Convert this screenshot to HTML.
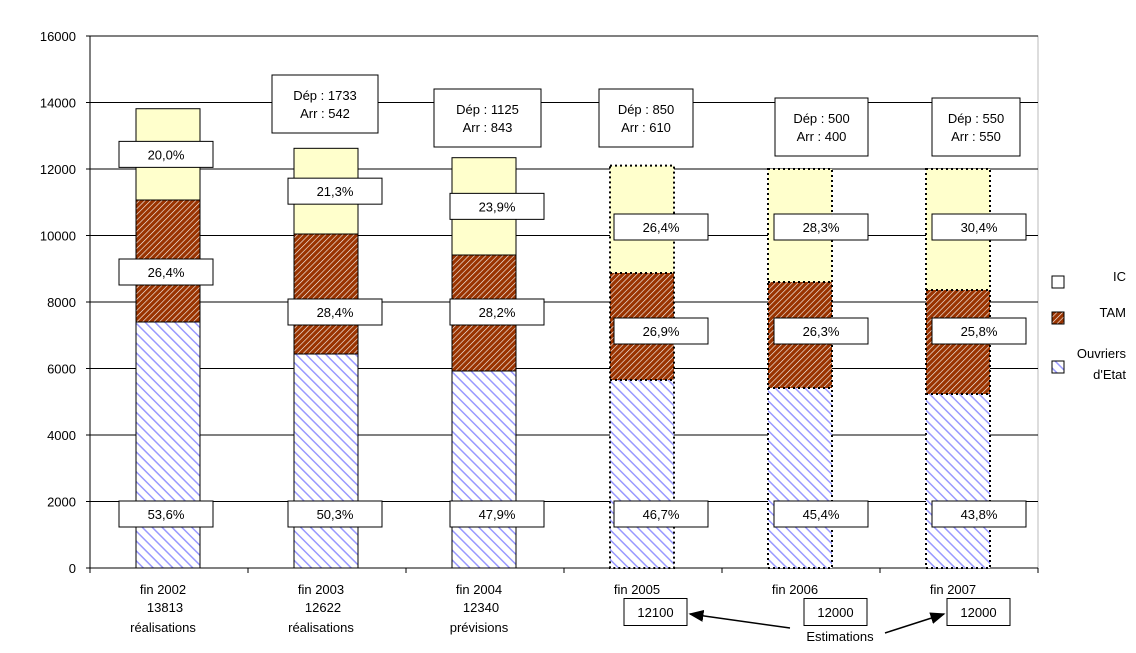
<!DOCTYPE html>
<html><head><meta charset="utf-8"><style>
body{margin:0;background:#fff}
svg{display:block;font-family:"Liberation Sans",Arial,sans-serif}
</style></head><body>
<svg id="c" width="1136" height="653">
<defs>
<pattern id="pTam" patternUnits="userSpaceOnUse" width="4" height="4" patternTransform="rotate(45)">
<rect width="4" height="4" fill="#993300"/><line x1="0" y1="0" x2="0" y2="4" stroke="#fff" stroke-width="1.2"/></pattern>
<pattern id="pOuv" patternUnits="userSpaceOnUse" width="7" height="7" patternTransform="rotate(-45)">
<rect width="7" height="7" fill="#fff"/><line x1="0" y1="0" x2="0" y2="7" stroke="#9999ff" stroke-width="3"/></pattern>
<marker id="arr" markerWidth="10" markerHeight="8" refX="9" refY="4" orient="auto"><path d="M0,0 L10,4 L0,8z" fill="#000"/></marker>
</defs>
</svg>
<script>
const categories=["fin 2002","fin 2003","fin 2004","fin 2005","fin 2006","fin 2007"];
const totals=[13813,12622,12340,12100,12000,12000];
const ouvriers=[7400,6436,5925,5654,5413,5233];
const tamTop=[11067,10045,9413,8872,8601,8361];
const pctIC=["20,0%","21,3%","23,9%","26,4%","28,3%","30,4%"];
const pctTAM=["26,4%","28,4%","28,2%","26,9%","26,3%","25,8%"];
const pctOuv=["53,6%","50,3%","47,9%","46,7%","45,4%","43,8%"];
const dep=[null,1733,1125,850,500,550];
const arr=[null,542,843,610,400,550];
const subLabels=["réalisations","réalisations","prévisions","","",""];
const yTicks=[0,2000,4000,6000,8000,10000,12000,14000,16000];
const svg=document.getElementById('c');const NS='http://www.w3.org/2000/svg';
const X0=90,X1=1038,Y0=568,Y1=36;
const y=v=>Y0-(v/16000)*(Y0-Y1);
const cw=(X1-X0)/categories.length;
const cx=i=>X0+cw*(i+0.5);
const boxOff=[-50,-39,-35,-29,-27,-27];
const totBoxX=[0,0,0,624,804,947];
const depBox=[null,[272,106,104],[434,107,118],[599,94,118],[775,93,127],[932,88,127]];
function el(t,a,txt){const e=document.createElementNS(NS,t);for(const k in a)e.setAttribute(k,a[k]);if(txt!=null)e.textContent=txt;svg.appendChild(e);return e;}
let e=el('rect',{x:X0,y:Y1,width:X1-X0,height:Y0-Y1,fill:'none',stroke:'#bbb'});

yTicks.forEach(t=>{
 if(t>0){e=el('line',{x1:X0,x2:X1,y1:y(t),y2:y(t),stroke:'#000'});}
 el('line',{x1:X0-4,x2:X0,y1:y(t),y2:y(t),stroke:'#000'});
 e=el('text',{x:76,y:y(t)+5,'text-anchor':'end','font-size':13},t);
 
});
el('line',{x1:X0,x2:X0,y1:Y1,y2:Y0,stroke:'#000'});
el('line',{x1:X0,x2:X1,y1:Y0,y2:Y0,stroke:'#000'});
for(let i=0;i<=categories.length;i++)el('line',{x1:X0+cw*i,x2:X0+cw*i,y1:Y0,y2:Y0+5,stroke:'#000'});
const bw=64;
function box(x,yc,w,h,lines,name){
 e=el('rect',{x:x,y:yc-h/2,width:w,height:h,fill:'#fff',stroke:'#000'});
 
 lines.forEach((l,k)=>{e=el('text',{x:x+w/2,y:yc-(lines.length-1)*9+k*18+5,'text-anchor':'middle','font-size':13},l);
 });
}
categories.forEach((c,i)=>{
 const x=cx(i)-bw/2-1, est=i>=3;
 e=el('rect',{x:x,y:y(ouvriers[i]),width:bw,height:y(0)-y(ouvriers[i]),fill:'url(#pOuv)'});
 
 e=el('rect',{x:x,y:y(tamTop[i]),width:bw,height:y(ouvriers[i])-y(tamTop[i]),fill:'url(#pTam)'});
 
 e=el('rect',{x:x,y:y(totals[i]),width:bw,height:y(tamTop[i])-y(totals[i]),fill:'#ffffcc'});
 
 const st={fill:'none',stroke:'#000','stroke-width':est?2:1};if(est)st['stroke-dasharray']='2,3';
 el('rect',Object.assign({x:x,y:y(totals[i]),width:bw,height:y(0)-y(totals[i])},st));
 el('line',Object.assign({x1:x,x2:x+bw,y1:y(ouvriers[i]),y2:y(ouvriers[i])},st));
 el('line',Object.assign({x1:x,x2:x+bw,y1:y(tamTop[i]),y2:y(tamTop[i])},st));
 const bx=cx(i)+boxOff[i];
 box(bx,est?227:(y(totals[i])+y(tamTop[i]))/2,94,26,[pctIC[i]],'pct-ic');
 box(bx,est?331:(i==0?272:312),94,26,[pctTAM[i]],'pct-tam');
 box(bx,514,94,26,[pctOuv[i]],'pct-ouvriers');
 if(dep[i]!=null){const d=depBox[i];
  box(d[0],d[2],d[1],58,['Dép : '+dep[i],'Arr   : '+arr[i]],'dep-arr');}
 e=el('text',{x:cx(i)-6,y:594,'text-anchor':'middle','font-size':13},c);
 
 if(est){box(totBoxX[i],612,63,27,[String(totals[i])],'total-label');}
 else{e=el('text',{x:cx(i)-4,y:612,'text-anchor':'middle','font-size':13},String(totals[i]));
  e=el('text',{x:cx(i)-6,y:632,'text-anchor':'middle','font-size':13},subLabels[i]);}
});
el('line',{x1:790,y1:628,x2:690,y2:614,stroke:'#000','stroke-width':1.5,'marker-end':'url(#arr)'});
el('line',{x1:885,y1:633,x2:944,y2:614,stroke:'#000','stroke-width':1.5,'marker-end':'url(#arr)'});
e=el('text',{x:840,y:641,'text-anchor':'middle','font-size':13},'Estimations');

const leg=[['IC','#fff',282],['TAM','url(#pTam)',318],['Ouvriers',"url(#pOuv)",367]];
leg.forEach((l,k)=>{
 e=el('rect',{x:1052,y:l[2]-6,width:12,height:12,fill:l[1],stroke:'#000'});
 
 e=el('text',{x:1126,y:k==2?358:l[2]-1,'text-anchor':'end','font-size':13},l[0]);
 
});
e=el('text',{x:1126,y:379,'text-anchor':'end','font-size':13},"d'Etat");

</script>
</body></html>
